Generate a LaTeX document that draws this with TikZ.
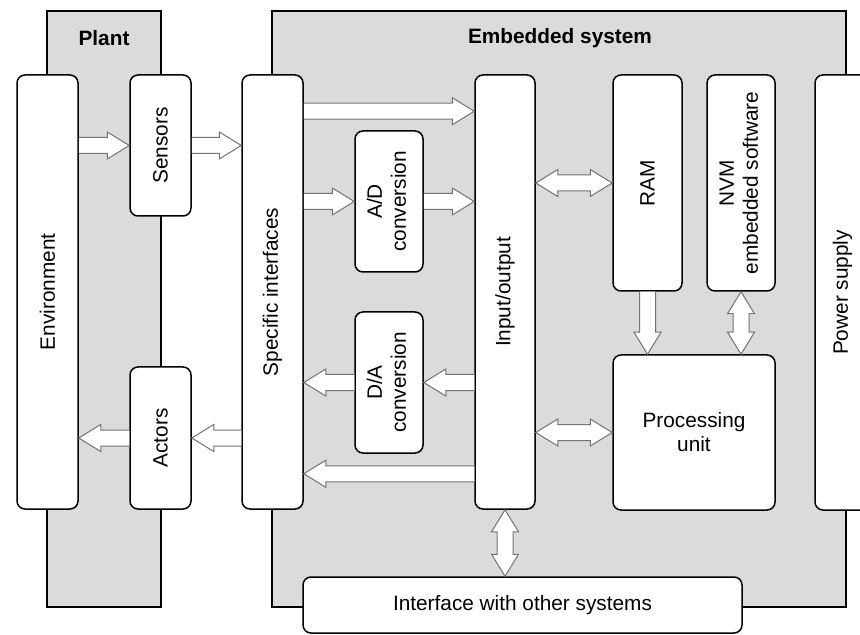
\documentclass[tikz,border=0pt]{standalone}
\usepackage{fontspec}
\setmainfont{Liberation Sans}
\usetikzlibrary{calc}

\begin{document}
\begin{tikzpicture}[x=0.5pt, y=-0.5pt,
    font=\fontsize{10.4}{12}\selectfont,
    panel/.style = {draw, line width=0.75pt, fill=black!14},
    box/.style = {draw, line width=0.75pt, fill=white, rounded corners=4pt, inner sep=0pt},
    title/.style = {font=\fontsize{10.4}{12}\selectfont\bfseries},
    fat/.style = {draw=black!55, fill=white, line width=0.5pt, to path={
        let \p1=(\tikztostart), \p2=(\tikztotarget),
            \n1={atan2(\y2-\y1,\x2-\x1)}, \n2={veclen(\x2-\x1,\y2-\y1)-11pt} in
        ($(\p1)+(\n1+90:4pt)$) -- ($(\p1)+(\n1:\n2)+(\n1+90:4pt)$)
        -- ($(\p1)+(\n1:\n2)+(\n1+90:6.75pt)$) -- (\p2)
        -- ($(\p1)+(\n1:\n2)+(\n1-90:6.75pt)$) -- ($(\p1)+(\n1:\n2)+(\n1-90:4pt)$)
        -- ($(\p1)+(\n1-90:4pt)$)}},
    fatboth/.style = {draw=black!55, fill=white, line width=0.5pt, to path={
        let \p1=(\tikztostart), \p2=(\tikztotarget),
            \n1={atan2(\y2-\y1,\x2-\x1)}, \n2={veclen(\x2-\x1,\y2-\y1)-11pt} in
        (\p1) -- ($(\p1)+(\n1:11pt)+(\n1+90:6.75pt)$) -- ($(\p1)+(\n1:11pt)+(\n1+90:4pt)$)
        -- ($(\p1)+(\n1:\n2)+(\n1+90:4pt)$) -- ($(\p1)+(\n1:\n2)+(\n1+90:6.75pt)$) -- (\p2)
        -- ($(\p1)+(\n1:\n2)+(\n1-90:6.75pt)$) -- ($(\p1)+(\n1:\n2)+(\n1-90:4pt)$)
        -- ($(\p1)+(\n1:11pt)+(\n1-90:4pt)$) -- ($(\p1)+(\n1:11pt)+(\n1-90:6.75pt)$) -- cycle}}]

    \useasboundingbox (0,0) rectangle (860,635);

    % Panels
    \draw[panel] (47,11) rectangle (161,607);
    \draw[panel] (272,11) rectangle (846,607);
    \node[title] (plantlbl) at (104,38) {Plant};
    \node[title] (emblbl) at (560,38) {Embedded system};

    % Nodes
    \node[box, minimum width=30.5pt, minimum height=217pt] (env) at (47.5,292) {\rotatebox{90}{Environment}};
    \node[box, minimum width=30.5pt, minimum height=70.5pt] (sens) at (160.5,145.5) {\rotatebox{90}{Sensors}};
    \node[box, minimum width=30.5pt, minimum height=71pt] (act) at (160.5,438) {\rotatebox{90}{Actors}};
    \node[box, minimum width=30.5pt, minimum height=217pt] (spec) at (272.5,292) {\rotatebox{90}{Specific interfaces}};
    \node[box, minimum width=34pt, minimum height=70.5pt] (ad) at (389,201.5) {\rotatebox{90}{\begin{tabular}{@{}c@{}}A/D\\conversion\end{tabular}}};
    \node[box, minimum width=34pt, minimum height=70.5pt] (da) at (389,382.5) {\rotatebox{90}{\begin{tabular}{@{}c@{}}D/A\\conversion\end{tabular}}};
    \node[box, minimum width=30pt, minimum height=217pt] (io) at (505,292) {\rotatebox{90}{Input/output}};
    \node[box, minimum width=34.5pt, minimum height=108pt] (ram) at (647.5,183) {\rotatebox{90}{RAM}};
    \node[box, minimum width=34pt, minimum height=108pt] (nvm) at (741,183) {\rotatebox{90}{\begin{tabular}{@{}c@{}}NVM\\embedded software\end{tabular}}};
    \node[box, minimum width=81pt, minimum height=77.5pt, align=center] (pu) at (694,432.5) {Processing\\unit};
    \node[box, minimum width=27.5pt, minimum height=217.5pt] (power) at (842.5,292.5) {\rotatebox{90}{Power supply}};
    \node[box, minimum width=219.5pt, minimum height=28pt] (iface) at (522.5,605) {Interface with other systems};
    \coordinate (iotop) at ([yshift=-18.5pt]io.north west);
    \coordinate (iolow) at ([yshift=18pt]io.south west);

    % Edges
    \draw[fat] (env.east |- sens.west) to (sens.west);
    \draw[fat] (sens.east) to (sens.east -| spec.west);
    \draw[fat] (iotop -| spec.east) to (iotop);
    \draw[fat] (ad.west -| spec.east) to (ad.west);
    \draw[fat] (ad.east) to (ad.east -| io.west);
    \draw[fatboth] (ram.west -| io.east) to (ram.west);
    \draw[fat] (ram.south) to (ram.south |- pu.north);
    \draw[fatboth] (nvm.south) to (nvm.south |- pu.north);
    \draw[fat] (da.east -| io.west) to (da.east);
    \draw[fat] (da.west) to (da.west -| spec.east);
    \draw[fatboth] (pu.west -| io.east) to (pu.west);
    \draw[fat] (iolow) to (iolow -| spec.east);
    \draw[fatboth] (io.south) to (io.south |- iface.north);
    \draw[fat] (act.east -| spec.west) to (act.east);
    \draw[fat] (act.west) to (act.west -| env.east);

\end{tikzpicture}
\end{document}
